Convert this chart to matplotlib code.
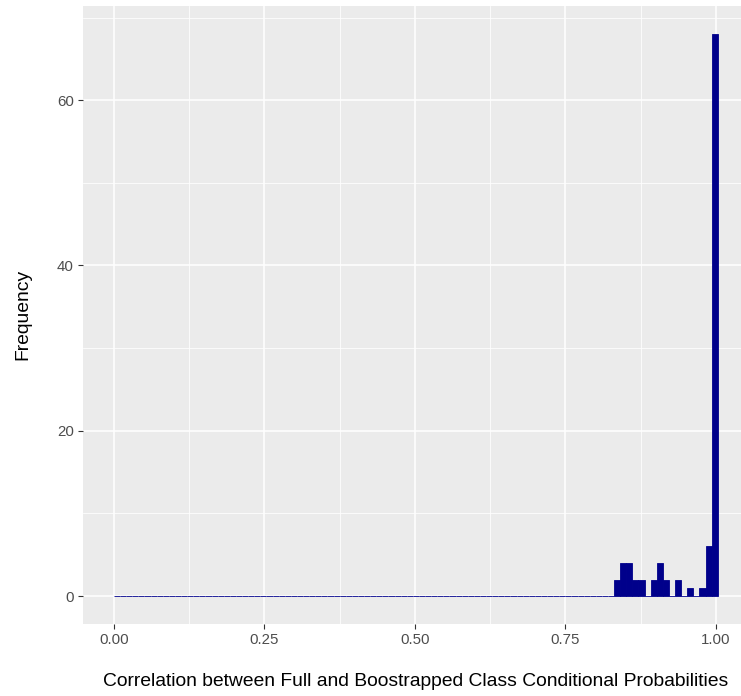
import numpy as np
import matplotlib
matplotlib.use("Agg")
import matplotlib.pyplot as plt
from matplotlib.ticker import FixedLocator

plt.rcParams['font.family'] = ['Liberation Sans', 'DejaVu Sans']

# Histogram of bootstrap correlations: 99 equal-width bins spanning 0 .. 1.003
bin_lo, bin_hi, n_bins = 0.0, 1.003, 99
# Counts of the upper 17 bins; all lower bins are empty
upper_counts = [2, 4, 4, 2, 2, 0, 2, 4, 2, 0, 2, 0, 1, 0, 1, 6, 68]

x_ticks = [0.0, 0.25, 0.5, 0.75, 1.0]
x_tick_labels = ["0.00", "0.25", "0.50", "0.75", "1.00"]
y_ticks = [0, 20, 40, 60]
y_tick_labels = ["0", "20", "40", "60"]

edges = np.linspace(bin_lo, bin_hi, n_bins + 1)
counts = np.zeros(n_bins)
counts[-len(upper_counts):] = upper_counts
widths = np.diff(edges)

W, H, DPI = 741, 696, 100
fig = plt.figure(figsize=(W / DPI, H / DPI), dpi=DPI)
# panel runs slightly past the right edge of the canvas
left, right, top, bottom = 83, 748, 6, 623.5
ax = fig.add_axes([left / W, 1 - bottom / H, (right - left) / W, (bottom - top) / H])

ax.set_facecolor('#EBEBEB')
ax.bar(edges[:-1], counts, width=widths, align='edge', color='#00008B',
       edgecolor='#00008B', linewidth=0.6, zorder=3)

ax.set_xlim(-0.0515, 1.0532)
ax.set_ylim(-3.32, 71.4)

ax.set_xticks(x_ticks)
ax.set_xticklabels(x_tick_labels)
ax.set_yticks(y_ticks)
ax.set_yticklabels(y_tick_labels)
ax.xaxis.set_minor_locator(FixedLocator([0.125, 0.375, 0.625, 0.875]))
ax.yaxis.set_minor_locator(FixedLocator([10, 30, 50, 70]))

ax.grid(which='major', color='white', linewidth=1.1, zorder=0)
ax.grid(which='minor', color='white', linewidth=0.55, zorder=0)
ax.set_axisbelow(True)

for s in ax.spines.values():
    s.set_visible(False)

ax.tick_params(which='major', length=3.5, width=0.8, color='#333333',
               labelcolor='#4D4D4D', labelsize=10.8, pad=3)
ax.tick_params(which='minor', length=0)

ax.set_xlabel("Correlation between Full and Boostrapped Class Conditional Probabilities",
              fontsize=13.9, color='black', labelpad=19)
ax.set_ylabel("Frequency", fontsize=13.9, color='black', labelpad=18.5)

fig.savefig("out.png", dpi=DPI)
